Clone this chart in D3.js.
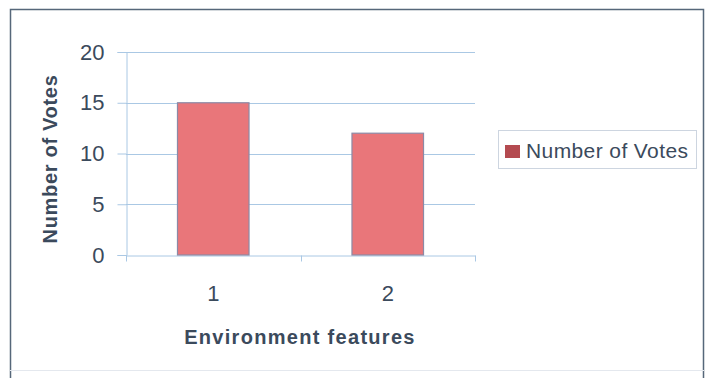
<!DOCTYPE html>
<html><head><meta charset="utf-8">
<script src="https://cdn.jsdelivr.net/npm/d3@7"></script>
<style>
html,body{margin:0;padding:0;background:#fff;}
svg{display:block;font-family:"Liberation Sans",Arial,sans-serif;}
</style></head>
<body>
<svg id="chart" width="707" height="378"></svg>
<script>
const categories = ["1", "2"];
const votes = [15, 12];
const yTicks = [0, 5, 10, 15, 20];
const seriesName = "Number of Votes";
const xTitle = "Environment features";
const yTitle = "Number of Votes";

const svg = d3.select("#chart");
const textColor = "#3b4a5c";
const gridColor = "#aac8e4";

// outer border
svg.append("path")
  .attr("d", "M10.5,378 L10.5,9.5 L703.5,9.5 L703.5,378")
  .attr("fill", "none").attr("stroke", "#56677a").attr("stroke-width", 1.5);
svg.append("line").attr("x1", 10).attr("x2", 704).attr("y1", 370.5).attr("y2", 370.5)
  .attr("stroke", "#e4e8ee").attr("stroke-width", 1);

const plot = {left: 126, right: 475, top: 52, bottom: 255};

const x = d3.scaleBand().domain(categories).range([plot.left, plot.right]).padding(0);
const y = d3.scaleLinear().domain([0, 20]).range([plot.bottom, plot.top]);

// gridlines
svg.append("g").selectAll("line").data(yTicks.filter(d => d > 0)).join("line")
  .attr("x1", plot.left).attr("x2", plot.right)
  .attr("y1", d => Math.round(y(d)) + 0.5).attr("y2", d => Math.round(y(d)) + 0.5)
  .attr("stroke", gridColor).attr("stroke-width", 1);

// y axis
const yAxis = d3.axisLeft(y).tickValues(yTicks).tickSize(9).tickPadding(13);
const gy = svg.append("g").attr("transform", `translate(${plot.left + 0.5},0)`).call(yAxis);
gy.select(".domain").attr("stroke", gridColor);
gy.selectAll(".tick line").attr("stroke", gridColor);
gy.selectAll(".tick text").attr("fill", textColor)
  .style("font-size", "22px").style("font-family", "'Liberation Sans',Arial,sans-serif");

// x axis
const xAxis = d3.axisBottom(x).tickSize(0).tickPadding(30);
const gx = svg.append("g").attr("transform", `translate(0,${plot.bottom + 0.5})`).call(xAxis);
gx.select(".domain").attr("stroke", gridColor);
gx.selectAll(".tick text").attr("fill", textColor)
  .style("font-size", "22px").style("font-family", "'Liberation Sans',Arial,sans-serif");
// category boundary ticks
const bounds = [plot.left, ...categories.map(c => x(c) + x.bandwidth())];
gx.selectAll(".btick").data(bounds).join("line").attr("class", "btick")
  .attr("x1", d => Math.round(d) + 0.5).attr("x2", d => Math.round(d) + 0.5)
  .attr("y1", 0).attr("y2", 6).attr("stroke", gridColor);

// bars
const barFrac = 0.41;
svg.append("g").selectAll("rect").data(votes).join("rect")
  .attr("x", (d, i) => x(categories[i]) + x.bandwidth() * (1 - barFrac) / 2)
  .attr("width", x.bandwidth() * barFrac)
  .attr("y", d => y(d))
  .attr("height", d => y(0) - y(d))
  .attr("fill", "#e9767a")
  .attr("stroke", "#8c8aa6").attr("stroke-width", 1.2);

// axis titles
svg.append("text")
  .attr("transform", "translate(57,159) rotate(-90)")
  .attr("text-anchor", "middle").attr("fill", textColor)
  .style("font-size", "20px").style("font-weight", "bold")
  .style("letter-spacing", "0.7px")
  .text(yTitle);

svg.append("text")
  .attr("x", 300).attr("y", 344)
  .attr("text-anchor", "middle").attr("fill", textColor)
  .style("font-size", "20px").style("font-weight", "bold")
  .style("letter-spacing", "1.3px")
  .text(xTitle);

// legend
const lg = svg.append("g");
lg.append("rect").attr("x", 498.5).attr("y", 130.5).attr("width", 198).attr("height", 38)
  .attr("fill", "#fff").attr("stroke", "#cdd5e0");
lg.append("rect").attr("x", 505).attr("y", 145).attr("width", 15).attr("height", 13)
  .attr("fill", "#b44a50");
lg.append("text").attr("x", 526).attr("y", 158).attr("fill", textColor)
  .style("font-size", "21px").style("letter-spacing", "0.4px").text(seriesName);
</script>
</body></html>
